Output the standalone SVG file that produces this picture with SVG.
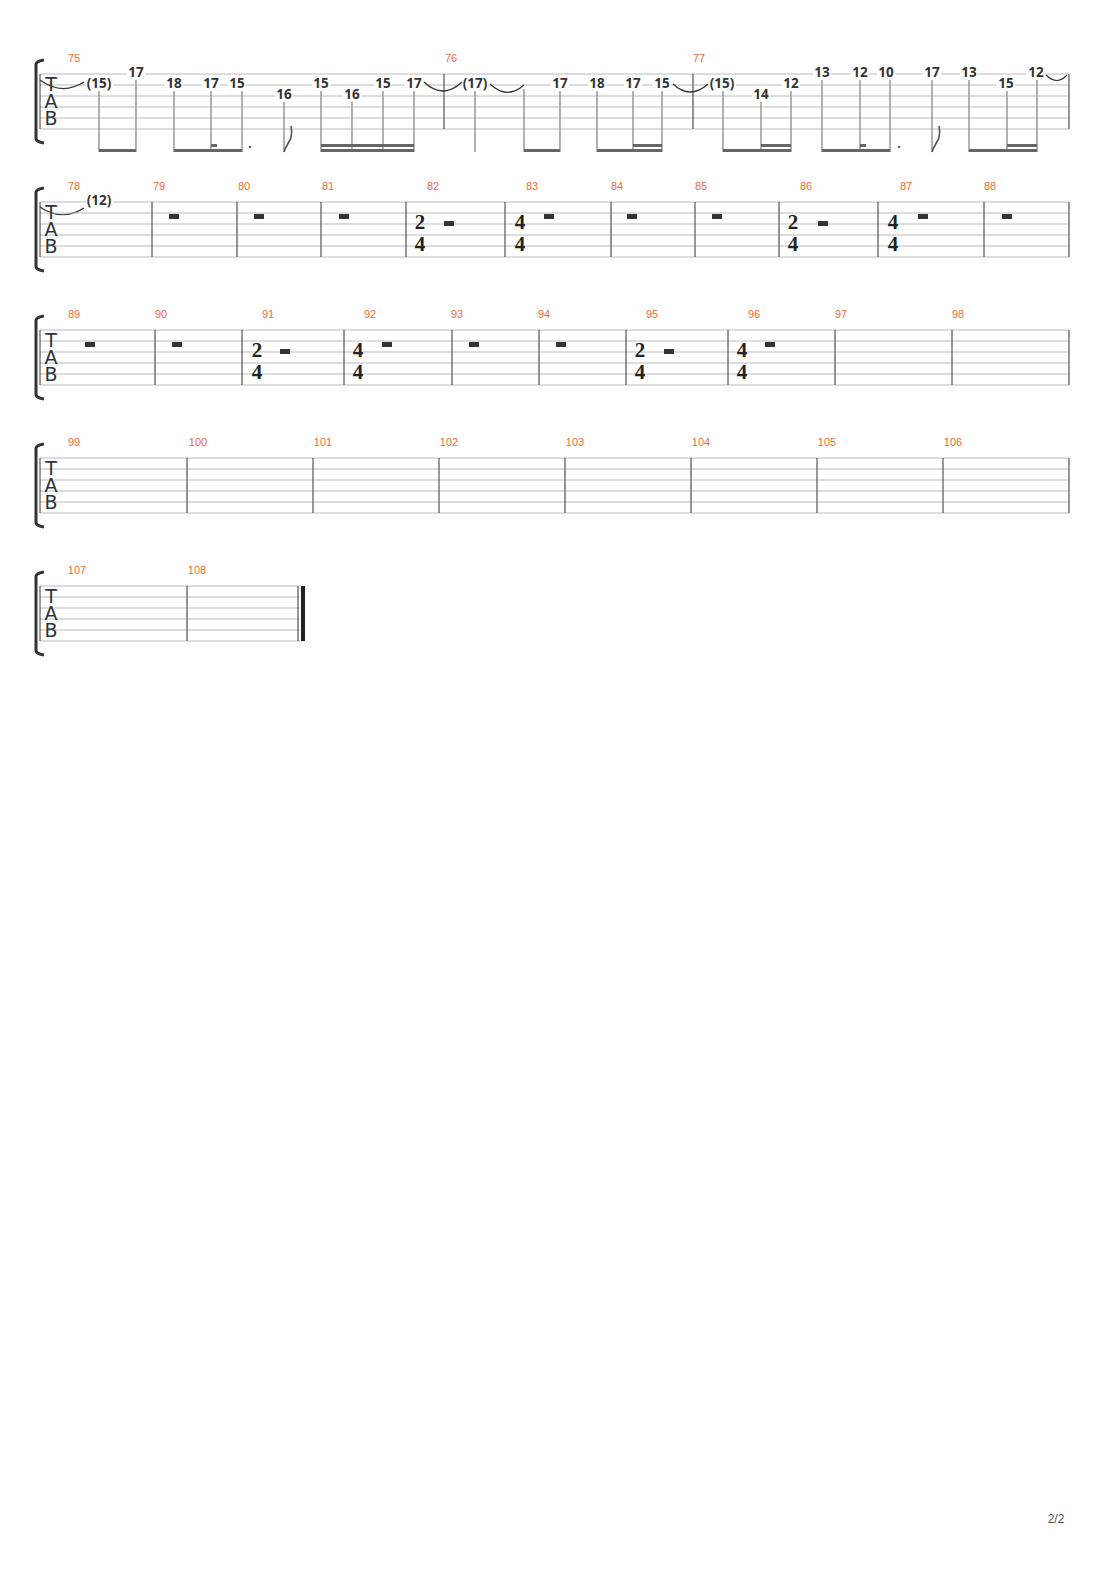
<svg xmlns="http://www.w3.org/2000/svg" width="1110" height="1570" viewBox="0 0 1110 1570">
<style>
.st line{stroke:#bbb;stroke-width:1}
.bar{stroke:#333;stroke-width:1}
.mn{font-family:"Liberation Sans",Arial,sans-serif;font-size:11px;fill:#f26b3a;text-anchor:middle}
.tab{font-family:"DejaVu Sans",sans-serif;font-size:19px;fill:#333;text-anchor:middle}
.f{font-family:"Open Sans","DejaVu Sans",sans-serif;font-size:13.5px;font-weight:bold;fill:#333;text-anchor:middle}
.ts{font-family:"Liberation Serif",serif;font-size:21px;font-weight:bold;fill:#222;text-anchor:middle}
.stem{stroke:#888;stroke-width:1.3}
.beam{fill:#666}
.tie{fill:none;stroke:#333;stroke-width:1.2}
.rest{fill:#333}
.brk{fill:none;stroke:#333;stroke-width:3}
</style>
<defs>
<g id="staff" class="st"><line x1="40" y1="0" x2="1069" y2="0"/><line x1="40" y1="11" x2="1069" y2="11"/><line x1="40" y1="22" x2="1069" y2="22"/><line x1="40" y1="33" x2="1069" y2="33"/><line x1="40" y1="44" x2="1069" y2="44"/><line x1="40" y1="55" x2="1069" y2="55"/></g>
<g id="tabl"><text class="tab" x="51" y="17">T</text><text class="tab" x="51" y="34">A</text><text class="tab" x="51" y="51">B</text><path class="brk" d="M44,-14 Q37,-13 36,-10 L36,65 Q37,68 44,69"/><line class="bar" x1="40" y1="0" x2="40" y2="55"/></g>
</defs>
<g id="system1" transform="translate(0,74)">
<use href="#staff"/><use href="#tabl"/>
<g class="bar"><line x1="444" y1="0" x2="444" y2="55"/><line x1="693" y1="0" x2="693" y2="55"/><line x1="1069" y1="0" x2="1069" y2="55"/></g>
<text class="mn" x="74" y="-12">75</text><text class="mn" x="451" y="-12">76</text><text class="mn" x="699" y="-12">77</text>
</g>
<g id="notes1">
<g fill="#fff"><rect x="86" y="77" width="27" height="14"/><rect x="127" y="66" width="18" height="14"/><rect x="165" y="77" width="18" height="14"/><rect x="202" y="77" width="18" height="14"/><rect x="228" y="77" width="18" height="14"/><rect x="275" y="88" width="18" height="14"/><rect x="312" y="77" width="18" height="14"/><rect x="343" y="88" width="18" height="14"/><rect x="374" y="77" width="18" height="14"/><rect x="405" y="77" width="18" height="14"/>
<rect x="462" y="77" width="27" height="14"/><rect x="551" y="77" width="18" height="14"/><rect x="588" y="77" width="18" height="14"/><rect x="624" y="77" width="18" height="14"/><rect x="653" y="77" width="18" height="14"/>
<rect x="709" y="77" width="27" height="14"/><rect x="752" y="88" width="18" height="14"/><rect x="782" y="77" width="18" height="14"/><rect x="813" y="66" width="18" height="14"/><rect x="851" y="66" width="18" height="14"/><rect x="877" y="66" width="18" height="14"/><rect x="923" y="66" width="18" height="14"/><rect x="960" y="66" width="18" height="14"/><rect x="997" y="77" width="18" height="14"/><rect x="1026" y="66" width="18" height="14"/></g>
<text class="f" x="99" y="88">(15)</text><text class="f" x="136" y="77">17</text><text class="f" x="174" y="88">18</text><text class="f" x="211" y="88">17</text><text class="f" x="237" y="88">15</text><text class="f" x="284" y="99">16</text><text class="f" x="321" y="88">15</text><text class="f" x="352" y="99">16</text><text class="f" x="383" y="88">15</text><text class="f" x="414" y="88">17</text>
<text class="f" x="475" y="88">(17)</text><text class="f" x="560" y="88">17</text><text class="f" x="597" y="88">18</text><text class="f" x="633" y="88">17</text><text class="f" x="662" y="88">15</text>
<text class="f" x="722" y="88">(15)</text><text class="f" x="761" y="99">14</text><text class="f" x="791" y="88">12</text><text class="f" x="822" y="77">13</text><text class="f" x="860" y="77">12</text><text class="f" x="886" y="77">10</text><text class="f" x="932" y="77">17</text><text class="f" x="969" y="77">13</text><text class="f" x="1006" y="88">15</text><text class="f" x="1036" y="77">12</text>
<g class="stem"><line x1="99" y1="91" x2="99" y2="152"/><line x1="136" y1="80" x2="136" y2="152"/><line x1="174" y1="91" x2="174" y2="152"/><line x1="211" y1="91" x2="211" y2="152"/><line x1="242" y1="91" x2="242" y2="152"/><line x1="284" y1="102" x2="284" y2="152"/><line x1="321" y1="91" x2="321" y2="152"/><line x1="352" y1="102" x2="352" y2="152"/><line x1="383" y1="91" x2="383" y2="152"/><line x1="414" y1="91" x2="414" y2="152"/>
<line x1="475" y1="91" x2="475" y2="152"/><line x1="524" y1="89" x2="524" y2="152"/><line x1="560" y1="91" x2="560" y2="152"/><line x1="597" y1="91" x2="597" y2="152"/><line x1="633" y1="91" x2="633" y2="152"/><line x1="662" y1="91" x2="662" y2="152"/>
<line x1="723" y1="91" x2="723" y2="152"/><line x1="761" y1="102" x2="761" y2="152"/><line x1="791" y1="91" x2="791" y2="152"/><line x1="822" y1="80" x2="822" y2="152"/><line x1="860" y1="80" x2="860" y2="152"/><line x1="890" y1="80" x2="890" y2="152"/><line x1="932" y1="80" x2="932" y2="152"/><line x1="969" y1="80" x2="969" y2="152"/><line x1="1007" y1="91" x2="1007" y2="152"/><line x1="1037" y1="80" x2="1037" y2="152"/></g>
<g class="beam"><rect x="99" y="149" width="37" height="3"/><rect x="174" y="149" width="68" height="3"/><rect x="211" y="144" width="6" height="3"/><rect x="321" y="149" width="93" height="3"/><rect x="321" y="144" width="93" height="3"/>
<rect x="524" y="149" width="36" height="3"/><rect x="597" y="149" width="65" height="3"/><rect x="633" y="144" width="29" height="3"/>
<rect x="723" y="149" width="68" height="3"/><rect x="761" y="144" width="30" height="3"/><rect x="822" y="149" width="68" height="3"/><rect x="860" y="144" width="6" height="3"/><rect x="969" y="149" width="68" height="3"/><rect x="1007" y="144" width="30" height="3"/>
<circle cx="250" cy="147" r="1.3"/><circle cx="899" cy="147" r="1.3"/></g>
<g fill="none" stroke="#555" stroke-width="1.6"><path d="M284,152 C286,143 294,141 291,126"/><path d="M932,152 C934,143 942,141 939,126"/></g>
</g>
<g id="ties" class="tie"><path d="M40,80 Q62,96 84,82"/><path d="M424,82 Q443,100 462,82"/><path d="M490,84 Q507,100 524,85"/><path d="M673,84 Q690,100 708,84"/><path d="M1046,75 Q1057,86 1067,75"/><path d="M40,207 Q62,222 84,208"/></g>
<g id="system2" transform="translate(0,202)">
<use href="#staff"/><use href="#tabl"/>
<g class="bar"><line x1="152" y1="0" x2="152" y2="55"/><line x1="237" y1="0" x2="237" y2="55"/><line x1="321" y1="0" x2="321" y2="55"/><line x1="406" y1="0" x2="406" y2="55"/><line x1="505" y1="0" x2="505" y2="55"/><line x1="611" y1="0" x2="611" y2="55"/><line x1="695" y1="0" x2="695" y2="55"/><line x1="779" y1="0" x2="779" y2="55"/><line x1="878" y1="0" x2="878" y2="55"/><line x1="984" y1="0" x2="984" y2="55"/><line x1="1069" y1="0" x2="1069" y2="55"/></g>
<text class="mn" x="74" y="-12">78</text><text class="mn" x="159" y="-12">79</text><text class="mn" x="244" y="-12">80</text><text class="mn" x="328" y="-12">81</text><text class="mn" x="433" y="-12">82</text><text class="mn" x="532" y="-12">83</text><text class="mn" x="617" y="-12">84</text><text class="mn" x="701" y="-12">85</text><text class="mn" x="806" y="-12">86</text><text class="mn" x="906" y="-12">87</text><text class="mn" x="990" y="-12">88</text>
<rect x="86" y="-6" width="27" height="13" fill="#fff"/><text class="f" x="99" y="3">(12)</text>
<g class="rest"><rect x="169" y="12" width="10" height="5"/><rect x="254" y="12" width="10" height="5"/><rect x="339" y="12" width="10" height="5"/><rect x="444" y="19" width="10" height="5"/><rect x="544" y="12" width="10" height="5"/><rect x="627" y="12" width="10" height="5"/><rect x="712" y="12" width="10" height="5"/><rect x="818" y="19" width="10" height="5"/><rect x="918" y="12" width="10" height="5"/><rect x="1002" y="12" width="10" height="5"/></g>
<text class="ts" x="420" y="27">2</text><text class="ts" x="420" y="49">4</text><text class="ts" x="520" y="27">4</text><text class="ts" x="520" y="49">4</text><text class="ts" x="793" y="27">2</text><text class="ts" x="793" y="49">4</text><text class="ts" x="893" y="27">4</text><text class="ts" x="893" y="49">4</text>
</g>
<g id="system3" transform="translate(0,330)">
<use href="#staff"/><use href="#tabl"/>
<g class="bar"><line x1="155" y1="0" x2="155" y2="55"/><line x1="242" y1="0" x2="242" y2="55"/><line x1="344" y1="0" x2="344" y2="55"/><line x1="452" y1="0" x2="452" y2="55"/><line x1="539" y1="0" x2="539" y2="55"/><line x1="626" y1="0" x2="626" y2="55"/><line x1="728" y1="0" x2="728" y2="55"/><line x1="835" y1="0" x2="835" y2="55"/><line x1="952" y1="0" x2="952" y2="55"/><line x1="1069" y1="0" x2="1069" y2="55"/></g>
<text class="mn" x="74" y="-12">89</text><text class="mn" x="161" y="-12">90</text><text class="mn" x="268" y="-12">91</text><text class="mn" x="370" y="-12">92</text><text class="mn" x="457" y="-12">93</text><text class="mn" x="544" y="-12">94</text><text class="mn" x="652" y="-12">95</text><text class="mn" x="754" y="-12">96</text><text class="mn" x="841" y="-12">97</text><text class="mn" x="958" y="-12">98</text>
<g class="rest"><rect x="85" y="12" width="10" height="5"/><rect x="172" y="12" width="10" height="5"/><rect x="280" y="19" width="10" height="5"/><rect x="382" y="12" width="10" height="5"/><rect x="469" y="12" width="10" height="5"/><rect x="556" y="12" width="10" height="5"/><rect x="664" y="19" width="10" height="5"/><rect x="765" y="12" width="10" height="5"/></g>
<text class="ts" x="257" y="27">2</text><text class="ts" x="257" y="49">4</text><text class="ts" x="358" y="27">4</text><text class="ts" x="358" y="49">4</text><text class="ts" x="640" y="27">2</text><text class="ts" x="640" y="49">4</text><text class="ts" x="742" y="27">4</text><text class="ts" x="742" y="49">4</text>
</g>
<g id="system4" transform="translate(0,458)">
<use href="#staff"/><use href="#tabl"/>
<g class="bar"><line x1="187" y1="0" x2="187" y2="55"/><line x1="313" y1="0" x2="313" y2="55"/><line x1="439" y1="0" x2="439" y2="55"/><line x1="565" y1="0" x2="565" y2="55"/><line x1="691" y1="0" x2="691" y2="55"/><line x1="817" y1="0" x2="817" y2="55"/><line x1="943" y1="0" x2="943" y2="55"/><line x1="1069" y1="0" x2="1069" y2="55"/></g>
<text class="mn" x="74" y="-12">99</text><text class="mn" x="198" y="-12">100</text><text class="mn" x="323" y="-12">101</text><text class="mn" x="449" y="-12">102</text><text class="mn" x="575" y="-12">103</text><text class="mn" x="701" y="-12">104</text><text class="mn" x="827" y="-12">105</text><text class="mn" x="953" y="-12">106</text>
</g>
<g id="system5" transform="translate(0,586)">
<g class="st"><line x1="40" y1="0" x2="300" y2="0"/><line x1="40" y1="11" x2="300" y2="11"/><line x1="40" y1="22" x2="300" y2="22"/><line x1="40" y1="33" x2="300" y2="33"/><line x1="40" y1="44" x2="300" y2="44"/><line x1="40" y1="55" x2="300" y2="55"/></g>
<use href="#tabl"/>
<g class="bar"><line x1="187" y1="0" x2="187" y2="55"/><line x1="298" y1="0" x2="298" y2="55"/></g>
<rect x="301" y="0" width="4" height="55" fill="#222"/>
<text class="mn" x="77" y="-12">107</text><text class="mn" x="197" y="-12">108</text>
</g>
<text x="1056" y="1523" font-family="Liberation Sans,Arial,sans-serif" font-size="12" fill="#555" text-anchor="middle">2/2</text>
</svg>
